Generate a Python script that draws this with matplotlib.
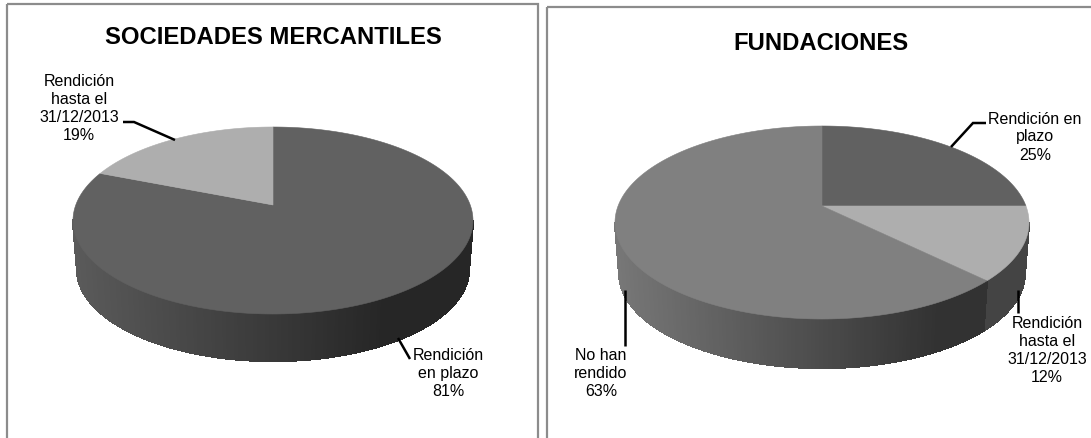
import numpy as np
import matplotlib
matplotlib.use('Agg')
import matplotlib.pyplot as plt
from matplotlib.collections import PolyCollection
from matplotlib.patches import Polygon, Rectangle

plt.rcParams['font.family'] = ['Liberation Sans', 'DejaVu Sans']

# data
soc_title = 'SOCIEDADES MERCANTILES'
soc_labels = ['Rendición\nen plazo\n81%', 'Rendición\nhasta el\n31/12/2013\n19%']
soc_shares = [81, 19]
soc_colors = ['#616161', '#aeaeae']

fun_title = 'FUNDACIONES'
fun_labels = ['Rendición en\nplazo\n25%', 'Rendición\nhasta el\n31/12/2013\n12%', 'No han\nrendido\n63%']
fun_shares = [25, 12.4, 62.6]
fun_colors = ['#616161', '#aeaeae', '#808080']

WIDTH, HEIGHT = 1091, 438


def rim_point(theta, pie):
    # circle seen in perspective, the pie centre lands off the ellipse centre
    a = pie['tilt']
    u, v = np.sin(theta), np.cos(theta)
    d = 1 + a * v
    return (pie['cx'] + pie['rx'] * u * np.sqrt(1 - a * a) / d,
            pie['cy'] - pie['ry'] * (v + a) / d)


def shade(x, pie):
    t = (x - (pie['cx'] - pie['rx'])) / (2 * pie['rx'])
    return 0.93 - 0.54 * min(t / 0.78, 1)


def draw_pie(ax, shares, colors, pie):
    edges = np.radians(np.cumsum([0] + shares) * 3.6)
    apex = (pie['cx'], pie['cy'] - pie['ry'] * pie['tilt'])
    k = pie['base_scale']
    polys, fills = [], []
    for i, color in enumerate(colors):
        base = np.array(matplotlib.colors.to_rgb(color))
        steps = np.linspace(edges[i], edges[i + 1], max(int((edges[i + 1] - edges[i]) * 60), 2))
        for t0, t1 in zip(steps[:-1], steps[1:]):
            x0, y0 = rim_point(t0, pie)
            x1, y1 = rim_point(t1, pie)
            if min(y0, y1) < pie['cy'] - 1:
                continue
            bx0 = pie['cx'] + (x0 - pie['cx']) * k
            bx1 = pie['cx'] + (x1 - pie['cx']) * k
            by0 = pie['cy'] + (y0 - pie['cy']) * k + pie['depth']
            by1 = pie['cy'] + (y1 - pie['cy']) * k + pie['depth']
            polys.append([(x0, y0), (x1, y1), (bx1, by1), (bx0, by0)])
            fills.append(base * shade((x0 + x1) / 2, pie))
    ax.add_collection(PolyCollection(polys, facecolors=fills, edgecolors=fills, linewidths=0.8,
                                     antialiaseds=False, zorder=2))

    # top face
    for i, color in enumerate(colors):
        steps = np.linspace(edges[i], edges[i + 1], 200)
        xs, ys = rim_point(steps, pie)
        pts = [apex] + list(zip(xs, ys))
        ax.add_patch(Polygon(pts, closed=True, facecolor=color, edgecolor=color, linewidth=0.4, zorder=3))


def leader(ax, xs, ys):
    ax.plot(xs, ys, color='black', lw=1.8, solid_joinstyle='miter', solid_capstyle='butt', zorder=4)


fig = plt.figure(figsize=(WIDTH / 100, HEIGHT / 100), dpi=100)
ax = fig.add_axes([0, 0, 1, 1])
ax.set_xlim(0, WIDTH)
ax.set_ylim(HEIGHT, 0)
ax.axis('off')

# panel frames, open at the bottom of the picture
ax.add_patch(Rectangle((7, 4), 531, 450, fill=False, edgecolor='#8c8c8c', lw=1.6))
ax.add_patch(Rectangle((547, 7), 560, 450, fill=False, edgecolor='#8c8c8c', lw=1.6))

left_pie = dict(cx=273, cy=220.5, rx=200, ry=93.5, tilt=0.166, depth=49, base_scale=0.98)
right_pie = dict(cx=822, cy=222.5, rx=207, ry=96.5, tilt=0.171, depth=51, base_scale=0.98)

draw_pie(ax, soc_shares, soc_colors, left_pie)
draw_pie(ax, fun_shares, fun_colors, right_pie)

ax.text(273, 37, soc_title, ha='center', va='center', fontsize=17.2, fontweight='bold')
ax.text(821, 43, fun_title, ha='center', va='center', fontsize=17.2, fontweight='bold')

lab = dict(ha='center', va='center', fontsize=11.5, linespacing=1.25, color='black')
ax.text(448, 373.5, soc_labels[0], **lab)
ax.text(79, 108.5, soc_labels[1], **lab)
ax.text(1035, 137, fun_labels[0], **lab)
ax.text(1047, 350, fun_labels[1], **lab)
ax.text(601, 374, fun_labels[2], **lab)

leader(ax, [175, 134, 123], [140, 122, 122])
leader(ax, [398, 410], [338, 359])
leader(ax, [951, 973, 986], [147, 123, 123])
leader(ax, [1018, 1018], [290, 313])
leader(ax, [625, 625], [290, 346])

fig.savefig('out.png', dpi=100)
